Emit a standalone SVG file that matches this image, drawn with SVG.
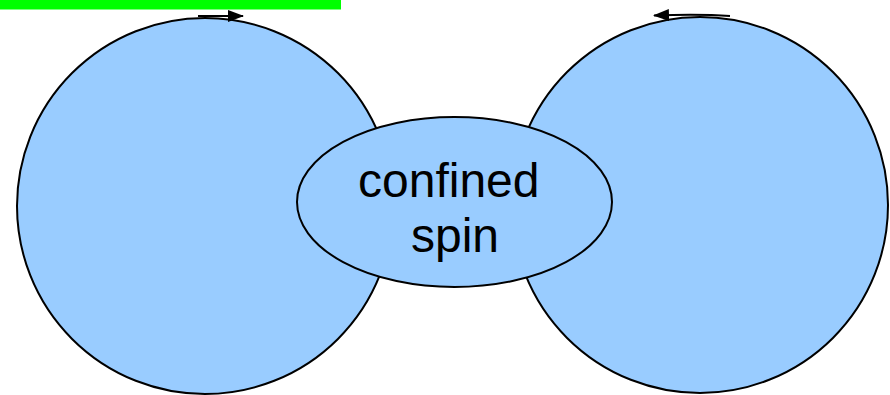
<svg xmlns="http://www.w3.org/2000/svg" width="890" height="395" viewBox="0 0 890 395">
  <style>
    .blob { fill: #99ccff; stroke: #000; stroke-width: 2; }
    .label { font-family: "Liberation Sans", Arial, sans-serif; font-size: 48px; fill: #000; }
    .arrow { stroke: #000; stroke-width: 2; fill: none; }
  </style>
  <defs>
    <marker id="head" markerWidth="8" markerHeight="6" refX="7.5" refY="3" orient="auto" markerUnits="strokeWidth">
      <path d="M0,0 L8,3 L0,6 Z" fill="#000"/>
    </marker>
  </defs>
  <rect width="890" height="395" fill="#fff"/>
  <!-- green bar -->
  <rect x="0" y="0" width="341" height="9.5" fill="#00ff00"/>
  <g id="left-lobe">
    <circle class="blob" cx="205" cy="206" r="188"/>
  </g>
  <g id="right-lobe">
    <circle class="blob" cx="700" cy="205" r="188"/>
  </g>
  <g id="confined-spin">
    <ellipse class="blob" cx="454.5" cy="202" rx="157.5" ry="85"/>
    <text class="label" x="358" y="197">confined</text>
    <text class="label" x="411" y="252">spin</text>
  </g>
  <g id="connectors">
    <line class="arrow" x1="198" y1="16" x2="243" y2="16" marker-end="url(#head)"/>
    <path class="arrow" d="M730,16 Q700,14 654,15.5" marker-end="url(#head)"/>
  </g>
</svg>
